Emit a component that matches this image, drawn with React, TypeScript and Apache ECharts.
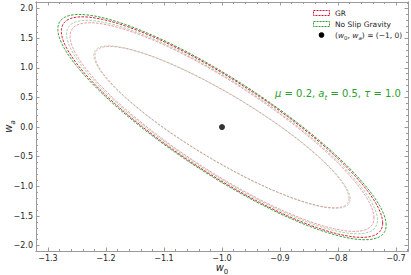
import React, { useEffect, useRef } from "react";
import * as echarts from "echarts";

// ---- data ----
const xMajorTicks = [-1.3, -1.2, -1.1, -1.0, -0.9, -0.8, -0.7];
const yMajorTicks = [-2.0, -1.5, -1.0, -0.5, 0.0, 0.5, 1.0, 1.5, 2.0];
const xRange = [-1.3207, -0.6793];
const yRange = [-2.09, 2.11];

// Fisher confidence contours (ellipses): model, semi-extent in w0, in wa, correlation
const contourModel = ["nsg", "gr", "nsg", "gr", "nsg", "gr"];
const contourLevel = ["outer", "outer", "mid", "mid", "inner", "inner"];
const contourSigmaW0 = [0.283, 0.277, 0.268, 0.262, 0.221, 0.219];
const contourSigmaWa = [1.9, 1.86, 1.8, 1.76, 1.37, 1.36];
const contourRho = [-0.87, -0.87, -0.87, -0.87, -0.885, -0.885];
const fiducial = [-1, 0];

const legendLabels = ["GR", "No Slip Gravity"];

const FONT = "DejaVu Sans";
const RED = "#dc143c";
const GREEN = "#2ca02c";
const AXIS_COLOR = "#9a9a9a";

function ellipsePoints(cx: number, cy: number, sx: number, sy: number, rho: number) {
  const pts: number[][] = [];
  const n = 240;
  const q = Math.sqrt(1 - rho * rho);
  for (let i = 0; i <= n; i++) {
    const t = (2 * Math.PI * i) / n;
    pts.push([cx + sx * Math.cos(t), cy + sy * (rho * Math.cos(t) + q * Math.sin(t))]);
  }
  return pts;
}

function minorFrom(major: number[], parts: number, lo: number, hi: number) {
  const step = (major[1] - major[0]) / parts;
  const out: number[] = [];
  const start = major[0] - step * parts;
  for (let i = 0; i <= (major.length + 1) * parts; i++) {
    const v = +(start + i * step).toFixed(6);
    if (v >= lo && v <= hi) out.push(v);
  }
  return out;
}

const fmt = (v: number) => (v < 0 ? "\u2212" : "") + Math.abs(v).toFixed(1);

export default function App() {
  const ref = useRef<HTMLDivElement>(null);
  useEffect(() => {
    if (!ref.current) return;
    const chart = echarts.init(ref.current, undefined, { renderer: "svg" });

    const xMinor = minorFrom(xMajorTicks, 5, xRange[0], xRange[1]);
    const yMinor = minorFrom(yMajorTicks, 5, yRange[0], yRange[1]);

    const mkAxis = (
      kind: "x" | "y",
      position: string,
      ticks: number[],
      len: number,
      labels: boolean,
      extra: any = {}
    ) => {
      const range = kind === "x" ? xRange : yRange;
      return {
        type: "value",
        position,
        min: range[0],
        max: range[1],
        axisLine: { show: true, onZero: false, lineStyle: { color: AXIS_COLOR, width: 1 } },
        splitLine: { show: false },
        axisTick: {
          show: true,
          inside: true,
          length: len,
          lineStyle: { color: AXIS_COLOR, width: 1 },
          customValues: ticks,
        },
        axisLabel: labels
          ? {
              show: true,
              customValues: ticks,
              formatter: fmt,
              fontFamily: FONT,
              fontSize: 8,
              lineHeight: 8,
              color: "#262626",
              margin: 3,
            }
          : { show: false },
        ...extra,
      };
    };

    const levelStyle: Record<string, { opacity: number; z: number }> = {
      outer: { opacity: 1, z: 3 },
      mid: { opacity: 0.45, z: 2 },
      inner: { opacity: 0.35, z: 1 },
    };

    const series: any[] = contourModel.map((m, i) => ({
      type: "line",
      xAxisIndex: 0,
      yAxisIndex: 0,
      data: ellipsePoints(fiducial[0], fiducial[1], contourSigmaW0[i], contourSigmaWa[i], contourRho[i]),
      showSymbol: false,
      symbol: "none",
      smooth: false,
      silent: true,
      z: levelStyle[contourLevel[i]].z,
      lineStyle: {
        color: m === "gr" ? RED : GREEN,
        width: 1,
        type: [2.6, 1.3],
        opacity: levelStyle[contourLevel[i]].opacity,
      },
    }));
    series.push({
      type: "scatter",
      xAxisIndex: 0,
      yAxisIndex: 0,
      data: [fiducial],
      symbolSize: 6,
      itemStyle: { color: "#000" },
      z: 5,
    });

    const nameRich = {
      i: { fontFamily: FONT, fontSize: 10, fontStyle: "italic", color: "#262626", lineHeight: 13, verticalAlign: "top" },
      s: { fontFamily: FONT, fontSize: 7, color: "#262626", lineHeight: 13, verticalAlign: "bottom" },
      si: { fontFamily: FONT, fontSize: 7, fontStyle: "italic", color: "#262626", lineHeight: 13, verticalAlign: "bottom" },
    };

    chart.setOption({
      animation: false,
      grid: { left: 36, right: 3, top: 2, bottom: 24, containLabel: false, outerBoundsMode: "none" },
      xAxis: [
        mkAxis("x", "bottom", xMajorTicks, 3.5, true, {
          name: "{i|w}{s|0}",
          nameLocation: "middle",
          nameGap: 11,
          nameMoveOverlap: false,
          nameTextStyle: { rich: nameRich },
        }),
        mkAxis("x", "bottom", xMinor, 2, false),
        mkAxis("x", "top", xMajorTicks, 3.5, false),
        mkAxis("x", "top", xMinor, 2, false),
      ],
      yAxis: [
        mkAxis("y", "left", yMajorTicks, 3.5, true, {
          name: "{i|w}{si|a}",
          nameLocation: "middle",
          nameGap: 20,
          nameRotate: 90,
          nameMoveOverlap: false,
          nameTextStyle: { rich: nameRich },
        }),
        mkAxis("y", "left", yMinor, 2, false),
        mkAxis("y", "right", yMajorTicks, 3.5, false),
        mkAxis("y", "right", yMinor, 2, false),
      ],
      series,
      graphic: [
        {
          type: "rect",
          shape: { x: 313.5, y: 10.5, width: 16, height: 5 },
          style: { fill: "none", stroke: RED, lineWidth: 1, lineDash: [2, 1] },
          z: 10,
        },
        {
          type: "text",
          x: 335,
          y: 13,
          style: { text: legendLabels[0], font: `7.5px "${FONT}"`, fill: "#262626", verticalAlign: "middle" },
          z: 10,
        },
        {
          type: "rect",
          shape: { x: 313.5, y: 21.5, width: 16, height: 5 },
          style: { fill: "none", stroke: GREEN, lineWidth: 1, lineDash: [2, 1] },
          z: 10,
        },
        {
          type: "text",
          x: 335,
          y: 24,
          style: { text: legendLabels[1], font: `7.5px "${FONT}"`, fill: "#262626", verticalAlign: "middle" },
          z: 10,
        },
        {
          type: "circle",
          shape: { cx: 321.5, cy: 35, r: 2.8 },
          style: { fill: "#000" },
          z: 10,
        },
        {
          type: "text",
          x: 335,
          y: 36,
          style: {
            text: "{n|(}{i|w}{s|0}{n|, }{i|w}{si|a}{n|) = (\u22121, 0)}",
            verticalAlign: "middle",
            rich: {
              n: { fontFamily: FONT, fontSize: 7.5, fill: "#262626", lineHeight: 10, verticalAlign: "top" },
              i: { fontFamily: FONT, fontSize: 7.5, fontStyle: "italic", fill: "#262626", lineHeight: 10, verticalAlign: "top" },
              s: { fontFamily: FONT, fontSize: 5.5, fill: "#262626", lineHeight: 10, verticalAlign: "bottom" },
              si: { fontFamily: FONT, fontSize: 5.5, fontStyle: "italic", fill: "#262626", lineHeight: 10, verticalAlign: "bottom" },
            },
          },
          z: 10,
        },
        {
          type: "text",
          x: 275,
          y: 95,
          style: {
            text: "{i|\u03bc}{n| = 0.2, }{i|a}{s|t}{n| = 0.5, }{i|\u03c4}{n| = 1.0}",
            verticalAlign: "middle",
            rich: {
              n: { fontFamily: FONT, fontSize: 10, fill: GREEN, lineHeight: 13, verticalAlign: "top" },
              i: { fontFamily: FONT, fontSize: 10, fontStyle: "italic", fill: GREEN, lineHeight: 13, verticalAlign: "top" },
              s: { fontFamily: FONT, fontSize: 7, fontStyle: "italic", fill: GREEN, lineHeight: 13, verticalAlign: "bottom" },
            },
          },
          z: 10,
        },
      ],
    });
    return () => chart.dispose();
  }, []);
  return (
    <div
      ref={ref}
      style={{ position: "absolute", left: 0, top: 0, width: 411, height: 275, background: "#fff" }}
    />
  );
}
